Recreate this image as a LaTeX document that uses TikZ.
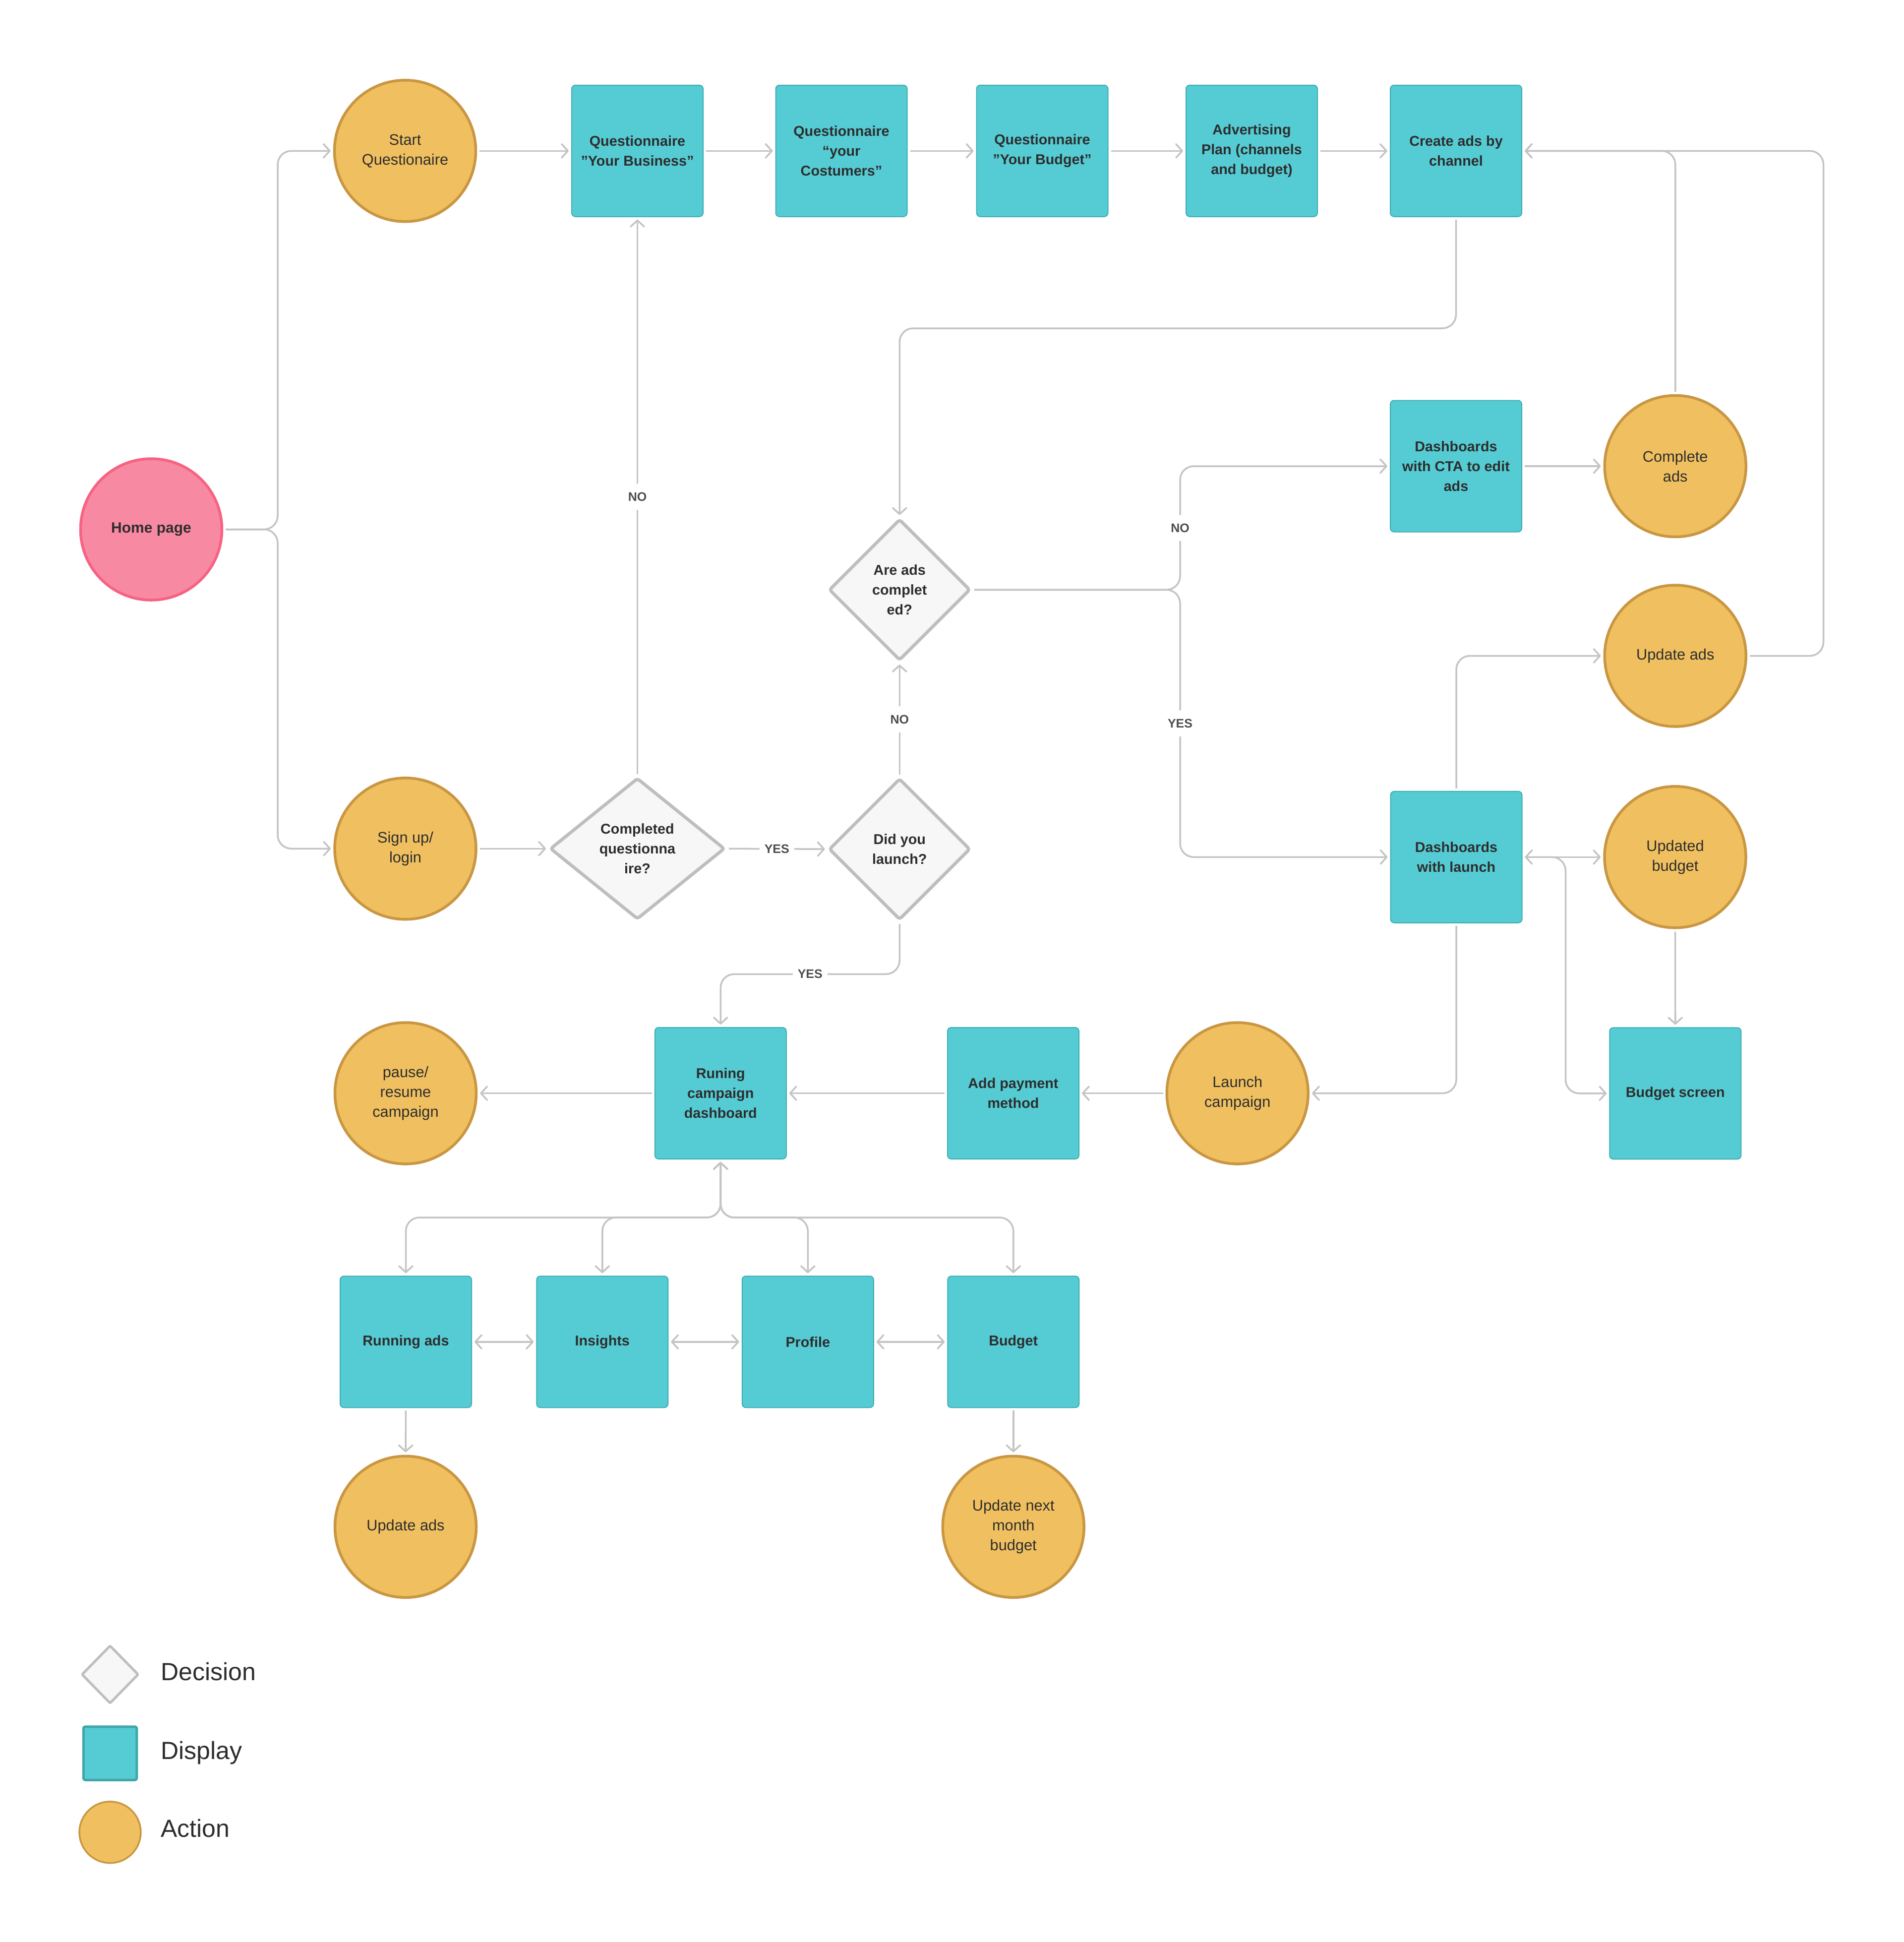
\documentclass[tikz,border=0pt]{standalone}
\usepackage{fontspec}
\setmainfont{Liberation Sans}
\usepackage{tikz}
\usetikzlibrary{shapes.geometric, arrows.meta, positioning}
\definecolor{dispteal}{RGB}{85, 204, 212}
\definecolor{dispedge}{RGB}{62, 174, 180}
\definecolor{keyedge}{RGB}{64, 166, 170}
\definecolor{actorange}{RGB}{240, 192, 96}
\definecolor{actedge}{RGB}{201, 150, 66}
\definecolor{homepink}{RGB}{247, 138, 162}
\definecolor{homeedge}{RGB}{248, 98, 130}
\definecolor{decfill}{RGB}{247, 247, 247}
\definecolor{decedge}{RGB}{190, 190, 190}
\definecolor{linkgray}{RGB}{196, 196, 196}
\definecolor{inkdark}{RGB}{45, 45, 45}

\begin{document}
\begin{tikzpicture}[
  x=1pt, y=-1pt,
  >={Straight Barb[length=5pt, width=11pt, round]},
  disp/.style={draw=dispedge, line width=0.8pt, fill=dispteal, rounded corners=3pt, minimum width=106pt, minimum height=106pt, inner sep=0pt, align=center, text=inkdark, font=\fontsize{11.5}{16}\selectfont\bfseries},
  act/.style={circle, draw=actedge, line width=2.2pt, fill=actorange, minimum size=114pt, inner sep=0pt, align=center, text=inkdark, font=\fontsize{12.3}{16}\selectfont},
  dec/.style={diamond, draw=decedge, line width=2.6pt, fill=decfill, minimum width=114pt, minimum height=114pt, inner sep=0pt, align=center, rounded corners=2pt, text=inkdark, font=\fontsize{11.5}{16}\selectfont\bfseries},
  link/.style={draw=linkgray, line width=1.4pt, rounded corners=11pt, ->, shorten >=2pt, shorten <=2pt},
  lbl/.style={fill=white, inner xsep=4pt, inner ysep=7pt, text=inkdark!85, font=\fontsize{10}{11}\selectfont\bfseries},
  keytext/.style={anchor=base west, inner sep=0pt, text=inkdark, font=\fontsize{20}{22}\selectfont}
]
  \fill[white] (0,0) rectangle (1536,1566.4);
  \useasboundingbox (0,0) rectangle (1536,1566.4);

  % screens, actions and decisions
  \node[act, fill=homepink, draw=homeedge, font=\fontsize{12}{16}\selectfont\bfseries] (home) at (122,427) {Home page};
  \node[act] (start) at (326.8,121.7) {Start\\Questionaire};
  \node[disp] (qbus) at (514.2,121.7) {Questionnaire\\”Your Business”};
  \node[disp] (qcust) at (678.8,121.7) {Questionnaire\\“your\\Costumers”};
  \node[disp] (qbud) at (840.8,121.7) {Questionnaire\\”Your Budget”};
  \node[disp] (plan) at (1009.8,121.7) {Advertising\\Plan (channels\\and budget)};
  \node[disp] (cads) at (1174.6,121.7) {Create ads by\\channel};
  \node[disp] (dcta) at (1174.6,376) {Dashboards\\with CTA to edit\\ads};
  \node[act] (cmpl) at (1351.5,376) {Complete\\ads};
  \node[act] (updtop) at (1351.5,529) {Update ads};
  \node[dec] (are) at (725.7,475.7) {Are ads\\complet\\ed?};
  \node[act] (sign) at (327,684.5) {Sign up/\\login};
  \node[dec, minimum width=141pt] (cq) at (514.2,684.5) {Completed\\questionna\\ire?};
  \node[dec] (did) at (725.7,684.9) {Did you\\launch?};
  \node[disp] (dwl) at (1174.8,691.3) {Dashboards\\with launch};
  \node[act] (ubud) at (1351.4,691.3) {Updated\\budget};
  \node[disp] (bscr) at (1351.5,881.9) {Budget screen};
  \node[act] (launch) at (998.3,881.8) {Launch\\campaign};
  \node[disp] (pay) at (817.4,881.8) {Add payment\\method};
  \node[disp] (rcd) at (581.3,881.8) {Runing\\campaign\\dashboard};
  \node[act] (pause) at (327.2,881.8) {pause/\\resume\\campaign};
  \node[disp] (rads) at (327.4,1082.3) {Running ads};
  \node[disp] (ins) at (485.9,1082.3) {Insights};
  \node[disp] (prof) at (651.7,1082.3) {Profile};
  \node[disp] (bud) at (817.5,1082.3) {Budget};
  \node[act] (updbot) at (327.2,1231.5) {Update ads};
  \node[act] (unext) at (817.5,1231.5) {Update next\\month\\budget};

  \coordinate (homefork) at (224,427);
  \coordinate (adsbend) at (725.7,264.8);
  \coordinate (aresplit) at (952,475.7);
  \coordinate (updloop) at (1471,529);
  \coordinate (dwlfork) at (1263,691.3);
  \coordinate (yesbend) at (581.3,785.7);
  \coordinate (rcdfork) at (581.3,982);

  % connectors
  \draw[link] (home.east) -- (homefork) |- (start.west);
  \draw[link] (home.east) -- (homefork) |- (sign.west);
  \draw[link] (start.east) -- (qbus.west);
  \draw[link] (qbus.east) -- (qcust.west);
  \draw[link] (qcust.east) -- (qbud.west);
  \draw[link] (qbud.east) -- (plan.west);
  \draw[link] (plan.east) -- (cads.west);
  \draw[link] (cads.south) |- (adsbend) -- (are.north);
  \draw[link] (are.east) -- (aresplit) |- node[lbl, pos=0.25] {NO} (dcta.west);
  \draw[link] (are.east) -- (aresplit) |- node[lbl, pos=0.25] {YES} (dwl.west);
  \draw[link] (dcta.east) -- (cmpl.west);
  \draw[link] (cmpl.north) |- (cads.east);
  \draw[link] (updtop.east) -- (updloop) |- (cads.east);
  \draw[link] (dwl.north) |- (updtop.west);
  \draw[link, <->] (dwl.east) -- (ubud.west);
  \draw[link] (dwl.east) -- (dwlfork) |- (bscr.west);
  \draw[link] (ubud.south) -- (bscr.north);
  \draw[link] (dwl.south) |- (launch.east);
  \draw[link] (launch.west) -- (pay.east);
  \draw[link] (pay.west) -- (rcd.east);
  \draw[link] (rcd.west) -- (pause.east);
  \draw[link] (sign.east) -- (cq.west);
  \draw[link] (cq.north) -- node[lbl] {NO} (qbus.south);
  \draw[link] (cq.east) -- node[lbl] {YES} (did.west);
  \draw[link] (did.north) -- node[lbl] {NO} (are.south);
  \draw[link] (did.south) |- node[lbl, pos=0.75] {YES} (yesbend) -- (rcd.north);
  \foreach \kid in {rads, ins, prof, bud}
    \draw[link, <->] (rcd.south) -- (rcdfork) -| (\kid.north);
  \draw[link, <->] (rads.east) -- (ins.west);
  \draw[link, <->] (ins.east) -- (prof.west);
  \draw[link, <->] (prof.east) -- (bud.west);
  \draw[link] (rads.south) -- (updbot.north);
  \draw[link] (bud.south) -- (unext.north);

  % legend
  \node[diamond, draw=decedge, line width=2pt, fill=decfill, minimum width=46pt, minimum height=47pt, inner sep=0pt, rounded corners=1pt] (keydec) at (88.8,1350.6) {};
  \node[draw=keyedge, line width=2pt, fill=dispteal, minimum size=43pt, inner sep=0pt, rounded corners=1.5pt] (keydisp) at (88.8,1414.2) {};
  \node[circle, draw=actedge, line width=1.4pt, fill=actorange, minimum size=49.5pt, inner sep=0pt] (keyact) at (88.8,1477.9) {};
  \node[keytext] (keydectxt) at (129.6,1355.2) {Decision};
  \node[keytext] (keydisptxt) at (129.6,1418.8) {Display};
  \node[keytext] (keyacttxt) at (129.6,1481.9) {Action};
\end{tikzpicture}
\end{document}
